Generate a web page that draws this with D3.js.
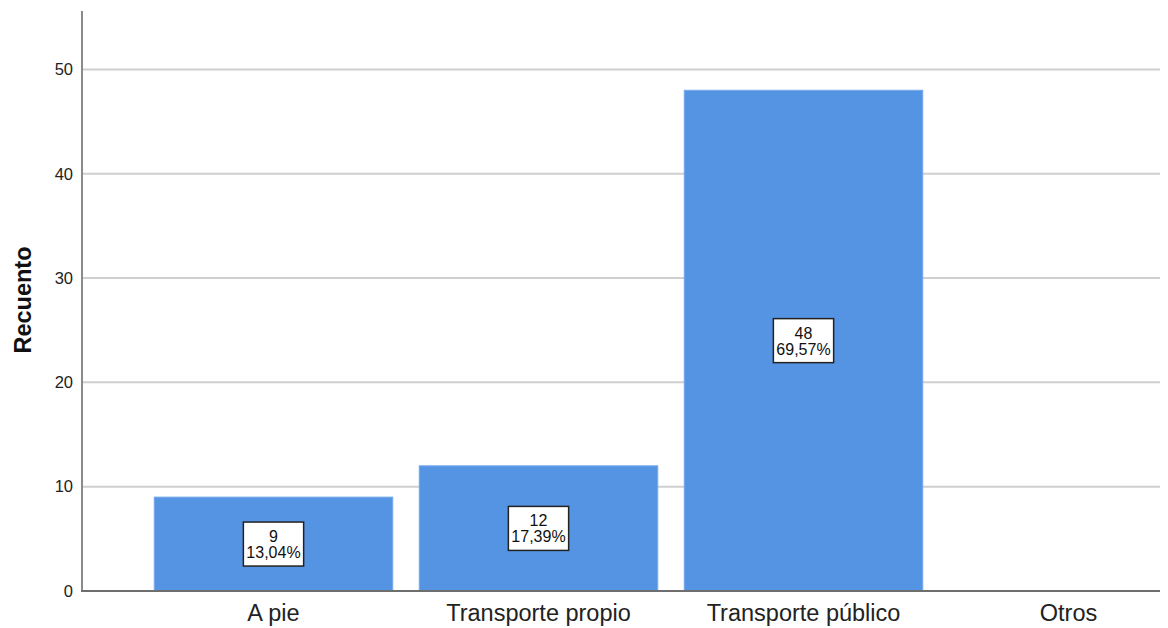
<!DOCTYPE html>
<html><head><meta charset="utf-8">
<script src="https://cdn.jsdelivr.net/npm/d3@7"></script>
<style>body{margin:0;background:#fff}svg{display:block}</style>
</head><body><svg id="c" width="1168" height="628"></svg>
<script>
const categories = ["A pie", "Transporte propio", "Transporte público", "Otros"];
const counts = [9, 12, 48, 0];
const percents = ["13,04%", "17,39%", "69,57%", ""];
const yTicks = [0, 10, 20, 30, 40, 50];
const yTitle = "Recuento";

const svg = d3.select("#c");
const mLeft = 82, mRight = 1160, mTop = 11, mBottom = 591;
const x = d3.scaleBand().domain(categories).range([141, 1201]).paddingInner(0.1).paddingOuter(0.05);
const y = d3.scaleLinear().domain([0, 55.6]).range([mBottom, mTop]);

// gridlines
svg.append("g").selectAll("line").data(yTicks.filter(d => d > 0)).join("line")
  .attr("x1", mLeft).attr("x2", mRight).attr("y1", d => y(d)).attr("y2", d => y(d))
  .attr("stroke", "#cfcfcf").attr("stroke-width", 2);

// bars
svg.append("g").selectAll("rect").data(categories.map((c, i) => ({c, v: counts[i], p: percents[i]})).filter(d => d.v > 0)).join("rect")
  .attr("x", d => x(d.c)).attr("width", x.bandwidth())
  .attr("y", d => y(d.v)).attr("height", d => y(0) - y(d.v))
  .attr("fill", "#5594e3").attr("stroke", "#74a9ec").attr("stroke-width", 1);

// y axis
const yAxis = svg.append("g").attr("transform", `translate(${mLeft},0)`)
  .call(d3.axisLeft(y).tickValues(yTicks).tickSize(0).tickPadding(9));
yAxis.select(".domain").remove();
yAxis.selectAll("text").attr("font-family", "Liberation Sans, Arial, sans-serif").attr("font-size", 16.5).attr("fill", "#222");
svg.append("line").attr("x1", mLeft).attr("x2", mLeft).attr("y1", mTop).attr("y2", mBottom + 1)
  .attr("stroke", "#8a8a8a").attr("stroke-width", 2);

// x axis
const xAxis = svg.append("g").attr("transform", `translate(0,${mBottom})`)
  .call(d3.axisBottom(x).tickSize(0).tickPadding(13));
xAxis.select(".domain").remove();
xAxis.selectAll("text").attr("font-family", "Liberation Sans, Arial, sans-serif").attr("font-size", 23.5).attr("fill", "#222");
svg.append("line").attr("x1", mLeft - 1).attr("x2", mRight).attr("y1", mBottom).attr("y2", mBottom)
  .attr("stroke", "#6e6e6e").attr("stroke-width", 2);

// y title
svg.append("text").attr("transform", `translate(31,${(244+356)/2}) rotate(-90)`)
  .attr("text-anchor", "middle").attr("font-family", "Liberation Sans, Arial, sans-serif")
  .attr("font-weight", "bold").attr("font-size", 23.5).attr("fill", "#111").text(yTitle);

// data labels
const lab = svg.append("g");
categories.forEach((c, i) => {
  if (counts[i] <= 0) return;
  const cx = x(c) + x.bandwidth() / 2, cy = y(counts[i] / 2);
  const g = lab.append("g");
  const box = g.append("rect");
  const t = g.append("text").attr("text-anchor", "middle").attr("font-family", "Liberation Sans, Arial, sans-serif")
    .attr("font-size", 16).attr("fill", "#111");
  t.append("tspan").attr("x", cx).attr("y", cy - 2).text(counts[i]);
  t.append("tspan").attr("x", cx).attr("y", cy + 14).text(percents[i]);
  const bb = t.node().getBBox();
  const w = bb.width + 6, h = 44;
  box.attr("x", cx - w / 2).attr("y", cy - h / 2).attr("width", w).attr("height", h)
    .attr("fill", "#fff").attr("stroke", "#222").attr("stroke-width", 1.5);
});
</script></body></html>
